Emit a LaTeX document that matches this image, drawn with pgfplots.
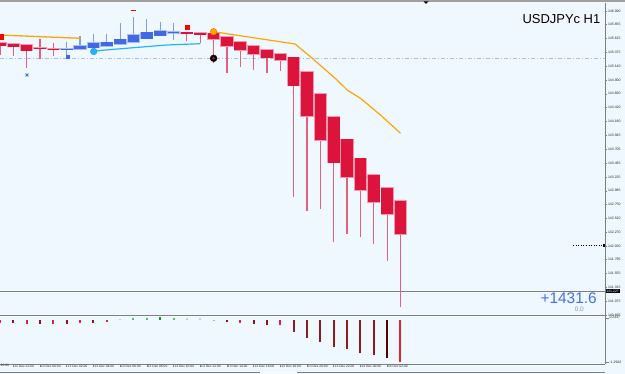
\documentclass[border=0pt]{standalone}
\usepackage{pgfplots}
\pgfplotsset{compat=1.18}
\usepackage{pgfplotstable}
\usepackage{fontspec}
\setmainfont{Liberation Sans}
\definecolor{bgc}{HTML}{F0F8FF}
\definecolor{crim}{HTML}{DC143C}
\definecolor{crimedge}{HTML}{F29AB0}
\definecolor{wickred}{HTML}{E4607C}
\definecolor{rblue}{HTML}{4169E1}
\definecolor{blueedge}{HTML}{A9BDF3}
\definecolor{wickblue}{HTML}{7E9BEE}
\definecolor{maorange}{HTML}{FFA500}
\definecolor{macyan}{HTML}{1EB4FF}
\definecolor{dashblue}{HTML}{A6BEF2}
\definecolor{axgray}{HTML}{808080}
\definecolor{txtblue}{HTML}{4A6FE3}
\definecolor{txtblue2}{HTML}{7A98EA}
\definecolor{hbright}{HTML}{E8202C}
\definecolor{hdark}{HTML}{9B1010}
\definecolor{hbrown}{HTML}{8A1C1C}
\definecolor{hdarkest}{HTML}{4D0505}
\definecolor{glight}{HTML}{A8E8A8}
\definecolor{gmid}{HTML}{50C050}
\definecolor{gdark}{HTML}{208A20}

\pgfplotstableread{
k open high low close
0 145.543 145.543 145.330 145.491
1 145.525 145.525 145.313 145.473
2 145.503 145.503 145.111 145.404
3 145.450 145.601 145.256 145.440
4 145.438 145.543 145.313 145.429
14 145.722 145.722 145.577 145.698
15 145.715 145.733 145.532 145.681
16 145.705 145.705 145.187 145.606
17 145.646 145.646 145.024 145.486
18 145.560 145.560 145.128 145.416
19 145.486 145.486 145.071 145.347
20 145.416 145.416 145.014 145.283
21 145.353 145.353 145.059 145.244
22 145.290 145.290 142.872 144.800
23 145.042 145.042 142.636 144.277
24 144.657 144.657 142.676 143.862
25 144.265 144.265 142.095 143.470
26 143.874 143.874 142.239 143.218
27 143.546 143.546 142.182 142.999
28 143.263 143.263 142.061 142.791
29 143.033 143.033 141.777 142.584
30 142.809 142.809 140.973 142.239
}\redc

\pgfplotstableread{
k open high low close
5 145.427 145.549 145.313 145.434
6 145.429 145.658 145.429 145.486
7 145.456 145.693 145.456 145.537
8 145.486 145.693 145.486 145.546
9 145.515 145.878 145.515 145.601
10 145.555 145.992 145.555 145.681
11 145.612 145.952 145.612 145.722
12 145.663 145.900 145.663 145.750
13 145.705 145.878 145.589 145.733
}\bluec

\pgfplotsset{candle/.style={draw=none, no markers, forget plot, error bars/y dir=plus, error bars/y explicit, error bars/error mark=none}}

\begin{document}
\begin{tikzpicture}
\useasboundingbox (0bp,0bp) rectangle (625bp,374bp);
\fill[bgc] (0bp,0bp) rectangle (625bp,374bp);

% ---------------- main price window ----------------
\begin{axis}[
  at={(0bp,58.5bp)}, anchor=south west,
  scale only axis, width=605bp, height=312.5bp,
  xmin=0, xmax=45.32, ymin=140.831, ymax=146.228,
  axis x line=none, axis y line*=right,
  axis line style={-, draw=axgray, line width=0.9bp},
  ytick={146.090,145.855,145.615,145.375,145.140,144.900,144.660,144.420,144.180,143.945,143.705,143.465,143.225,142.985,142.750,142.510,142.270,142.030,141.795,141.555,141.315,141.075,140.835},
  yticklabels={146.090,145.855,145.615,145.375,145.140,144.900,144.660,144.420,144.180,143.945,143.705,143.465,143.225,142.985,142.750,142.510,142.270,142.030,141.795,141.555,141.315,141.075,140.835},
  tick align=outside, major tick length=2bp,
  tick style={draw=axgray, line width=0.4bp},
  yticklabel style={font=\fontsize{3.5}{4}\selectfont, text=black!85, inner sep=0.8bp},
  clip=true,
]
% horizontal levels
\addplot[dashblue, line width=0.8bp, dash pattern=on 4bp off 2bp on 1bp off 2bp, forget plot] coordinates {(0,145.278) (45.32,145.278)};
\addplot[axgray, line width=0.9bp, forget plot] coordinates {(0,141.254) (45.32,141.254)};
\addplot[black, dotted, line width=0.6bp, forget plot] coordinates {(42.92,142.043) (45.2,142.043)};
\addplot[black, only marks, mark=square*, mark size=0.7bp, forget plot] coordinates {(45.2,142.043)};

% red candles: wicks, body edge, body
\addplot[candle, error bars/error bar style={draw=wickred, line width=1.2bp}]
  table[x=k, y=low, y error expr=\thisrow{high}-\thisrow{low}] {\redc};
\addplot[candle, error bars/error bar style={draw=crimedge, line width=13.2bp, shorten <=-0.6bp, shorten >=-0.6bp}]
  table[x=k, y=close, y error expr=\thisrow{open}-\thisrow{close}] {\redc};
\addplot[candle, error bars/error bar style={draw=crim, line width=11.6bp}]
  table[x=k, y=close, y error expr=\thisrow{open}-\thisrow{close}] {\redc};

% blue candles
\addplot[candle, error bars/error bar style={draw=wickblue, line width=1.2bp}]
  table[x=k, y=low, y error expr=\thisrow{high}-\thisrow{low}] {\bluec};
\addplot[candle, error bars/error bar style={draw=blueedge, line width=13.2bp, shorten <=-0.6bp, shorten >=-0.6bp}]
  table[x=k, y=open, y error expr=\thisrow{close}-\thisrow{open}] {\bluec};
\addplot[candle, error bars/error bar style={draw=rblue, line width=11.6bp}]
  table[x=k, y=open, y error expr=\thisrow{close}-\thisrow{open}] {\bluec};

% moving-average lines
\addplot[maorange, line width=1.3bp, forget plot] coordinates {(0,145.675) (6.05,145.618)};
\addplot[maorange, line width=1.2bp, forget plot] coordinates {(16,145.732) (22.1,145.520) (23.25,145.301) (25.25,144.898) (26,144.726) (27,144.582) (28.5,144.294) (30,143.978)};
\addplot[macyan, line width=1.2bp, forget plot] coordinates {(7.04,145.399) (10,145.456) (12.5,145.503) (15,145.525)};

% signal markers
\addplot[only marks, mark=square*, mark size=2.3bp, draw=red, fill=red, forget plot] coordinates {(0.1,145.641)};
\addplot[only marks, mark=x, mark size=2bp, rblue, line width=0.9bp, forget plot] coordinates {(2.02,144.985)};
\addplot[only marks, mark=square*, mark size=1.6bp, draw=rblue, fill=rblue, forget plot] coordinates {(5.07,145.301)};
\addplot[only marks, mark=*, mark size=3.3bp, draw=macyan!80!blue, fill=macyan, forget plot] coordinates {(7.02,145.391)};
\addplot[only marks, mark=-, mark size=2.2bp, red, line width=1.3bp, forget plot] coordinates {(10,146.095)};
\addplot[only marks, mark=square*, mark size=1.8bp, draw=red, fill=red, forget plot] coordinates {(14.03,145.808)};
\addplot[only marks, mark=*, mark size=3.3bp, draw=orange!90!black, fill=maorange, forget plot] coordinates {(16,145.732)};
\addplot[only marks, mark=*, mark size=3.4bp, draw=black, fill=black, forget plot] coordinates {(16,145.273)};
\addplot[only marks, mark=*, mark size=1bp, draw=red, fill=red, forget plot] coordinates {(16,145.273)};
\end{axis}

% ---------------- indicator window ----------------
\begin{axis}[
  at={(0bp,10bp)}, anchor=south west,
  scale only axis, width=605bp, height=48bp,
  xmin=0, xmax=45.32, ymin=-1.356, ymax=0.123,
  axis x line*=bottom, axis y line*=right,
  axis line style={-, draw=axgray, line width=0.9bp},
  ytick={0.07,-1.2942}, yticklabels={0.2437,-1.2942},
  xtick={1,3,5,7,9,11,13,15,17,19,21,23,25,27,29},
  xticklabels={12 Dec 22:00,13 Dec 00:00,13 Dec 02:00,13 Dec 04:00,13 Dec 06:00,13 Dec 08:00,13 Dec 10:00,13 Dec 12:00,13 Dec 14:00,13 Dec 16:00,13 Dec 18:00,13 Dec 20:00,13 Dec 22:00,14 Dec 00:00,14 Dec 02:00},
  tick align=outside, major tick length=3.5bp,
  x tick style={draw=axgray, line width=0.5bp},
  y tick style={draw=axgray, line width=0.4bp},
  yticklabel style={font=\fontsize{3.5}{4}\selectfont, text=black!85, inner sep=0.8bp},
  xticklabel style={font=\fontsize{3.3}{4}\selectfont, text=black!85, anchor=north west, inner sep=0.5bp, xshift=0.3bp, yshift=2.5bp},
  clip=true,
]
\addplot[ycomb, hbright, line width=2bp] coordinates {(0,-0.10) (2,-0.12) (4,-0.12) (6,-0.08) (8,-0.06) (18,-0.08) (21,-0.16) (30,-1.2942)};
\addplot[ycomb, hdark, line width=2bp] coordinates {(1,-0.10) (3,-0.12) (5,-0.12) (7,-0.08) (17,-0.07) (19,-0.12) (20,-0.16)};
\addplot[ycomb, hbrown, line width=2bp] coordinates {(22,-0.37) (23,-0.545) (24,-0.69) (25,-0.83) (26,-0.90) (27,-1.02) (28,-1.09)};
\addplot[ycomb, hdarkest, line width=2bp] coordinates {(29,-1.17)};
\addplot[ycomb, glight, line width=2bp] coordinates {(9,0.03) (14,0.05) (15,0.05)};
\addplot[ycomb, gmid, line width=2bp] coordinates {(10,0.06) (11,0.07) (13,0.06)};
\addplot[ycomb, gdark, line width=2bp] coordinates {(12,0.09)};
\addplot[ycomb, gray!60, line width=2bp] coordinates {(16,-0.02)};
\end{axis}

% frame pieces
\fill[gray!75] (0bp,371.5bp) rectangle (625bp,374bp);
\fill[black] (423.5bp,372.5bp) -- (428.5bp,372.5bp) -- (426bp,370.2bp) -- cycle;
\draw[axgray, line width=1.6bp] (0bp,58.5bp) -- (605bp,58.5bp);
\draw[axgray, line width=1bp] (0bp,1.3bp) -- (605bp,1.3bp);
\draw[white, line width=1.2bp] (260bp,1.3bp) -- (297bp,1.3bp);

% texts
\node[anchor=north east, inner sep=0pt, font=\fontsize{13}{15}\selectfont] at (600.5bp,359.5bp) {USDJPYc H1};
\node[anchor=north east, inner sep=0pt, font=\fontsize{15.5}{17}\selectfont, text=txtblue] at (597bp,81.5bp) {+1431.6};
\node[anchor=north east, inner sep=0pt, font=\fontsize{6.5}{7}\selectfont, text=txtblue2] at (584bp,67bp) {0.0};
\node[anchor=west, fill=black, text=white, inner sep=0.6bp, font=\fontsize{3.5}{4}\selectfont] at (605.5bp,82.8bp) {141.227};
\node[anchor=north west, inner sep=0.5bp, font=\fontsize{3.3}{4}\selectfont, text=black!85] at (0bp,10.5bp) {20:00};
\end{tikzpicture}
\end{document}
